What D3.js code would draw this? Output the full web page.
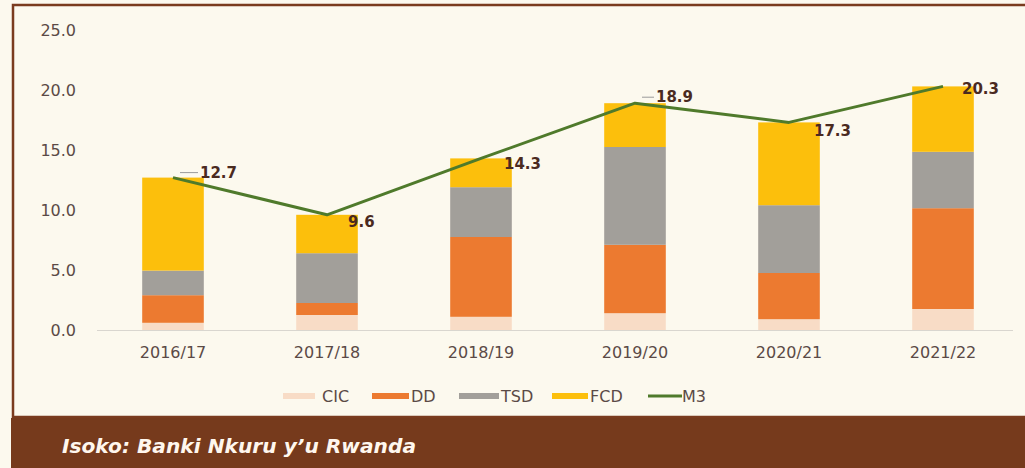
<!DOCTYPE html>
<html><head><meta charset="utf-8">
<script src="https://cdn.jsdelivr.net/npm/d3@7"></script>
<style>
html,body{margin:0;padding:0;background:#fcf9ee;}
svg{display:block;}
</style></head>
<body>
<svg id="c" width="1025" height="468"></svg>
<script>
const categories = ["2016/17","2017/18","2018/19","2019/20","2020/21","2021/22"];
const seriesNames = ["CIC","DD","TSD","FCD"];
const CIC = [0.6, 1.25, 1.1, 1.4, 0.9, 1.75];
const DD  = [2.3, 1.0, 6.65, 5.7, 3.85, 8.4];
const TSD = [2.05, 4.15, 4.15, 8.15, 5.65, 4.7];
const FCD = [7.75, 3.2, 2.4, 3.65, 6.9, 5.45];
const M3  = [12.7, 9.6, 14.3, 18.9, 17.3, 20.3];
const yTicks = [0,5,10,15,20,25];
const sourceText = "Isoko: Banki Nkuru y\u2019u Rwanda";

const colors = {CIC:"#f8dcc6", DD:"#ec7a30", TSD:"#a29f9a", FCD:"#fcbf0c", M3:"#4f7a2b"};
const FONT = "'DejaVu Sans'";
const TXT = "#5b4a46";
const svg = d3.select("#c");
const W = 1025, H = 468;

// background / frame
svg.append("rect").attr("x",0).attr("y",0).attr("width",W).attr("height",H).attr("fill","#fcf9ee");
svg.append("rect").attr("x",13).attr("y",5).attr("width",W+5).attr("height",412)
  .attr("fill","#fcf9ee").attr("stroke","#7a3b1e").attr("stroke-width",2.5);
svg.append("rect").attr("x",11).attr("y",418).attr("width",W-11).attr("height",50).attr("fill","#763a1c");
svg.append("text").attr("x",62).attr("y",453).text(sourceText)
  .attr("fill","#fff7ee").attr("font-family",FONT).attr("font-weight","bold")
  .attr("font-style","italic").attr("font-size",19).attr("textLength",354).attr("lengthAdjust","spacingAndGlyphs");

const x = d3.scaleBand().domain(categories).range([96,1020]).paddingInner(0.6).paddingOuter(0.3);
const y = d3.scaleLinear().domain([0,25]).range([330,30]);

// y axis labels
const yAxis = d3.axisLeft(y).tickValues(yTicks).tickFormat(d3.format(".1f")).tickSize(0).tickPadding(0);
const gy = svg.append("g").attr("transform","translate(76,0)").call(yAxis);
gy.select(".domain").remove();
gy.selectAll("text").attr("font-family",FONT).attr("font-size",16).attr("fill",TXT);

// baseline
svg.append("line").attr("x1",97).attr("x2",1013).attr("y1",y(0)+0.5).attr("y2",y(0)+0.5)
  .attr("stroke","#d9d6cf").attr("stroke-width",1.2);

// x axis labels
const xAxis = d3.axisBottom(x).tickSize(0).tickPadding(0);
const gx = svg.append("g").attr("transform",`translate(0,${y(0)+17})`).call(xAxis);
gx.select(".domain").remove();
gx.selectAll("text").attr("font-family",FONT).attr("font-size",16).attr("fill",TXT);

// stacked bars
const rows = categories.map((c,i)=>({cat:c, CIC:CIC[i], DD:DD[i], TSD:TSD[i], FCD:FCD[i]}));
const stack = d3.stack().keys(seriesNames)(rows);
svg.append("g").selectAll("g").data(stack).join("g").attr("fill",d=>colors[d.key])
  .selectAll("rect").data(d=>d).join("rect")
  .attr("x",d=>x(d.data.cat)).attr("width",x.bandwidth())
  .attr("y",d=>y(d[1])).attr("height",d=>y(d[0])-y(d[1]));

// M3 line
const cx = i => x(categories[i]) + x.bandwidth()/2;
const line = d3.line().x((d,i)=>cx(i)).y(d=>y(d));
svg.append("path").datum(M3).attr("d",line).attr("fill","none")
  .attr("stroke",colors.M3).attr("stroke-width",3).attr("stroke-linejoin","round");

// data labels (offsets are layout only)
const offs = [[27,-5,true],[21,7,false],[23,5,false],[21,-6,true],[25,8,false],[19,2,false]];
const lg = svg.append("g");
M3.forEach((v,i)=>{
  const [dx,dy,leader] = offs[i];
  const px = cx(i), py = y(v);
  if(leader){
    lg.append("line").attr("x1",px+7).attr("x2",px+dx-2).attr("y1",py+dy).attr("y2",py+dy)
      .attr("stroke","#9a9a9a").attr("stroke-width",1);
  }
  lg.append("text").attr("x",px+dx).attr("y",py+dy).attr("dy","0.35em")
    .text(d3.format(".1f")(v)).attr("font-family",FONT).attr("font-weight","bold")
    .attr("font-size",15).attr("fill","#4a2a1f");
});

// legend
const legendItems = [
  {k:"CIC", sx:283, sw:32, tx:322},
  {k:"DD", sx:372, sw:37, tx:411},
  {k:"TSD", sx:459, sw:40, tx:501},
  {k:"FCD", sx:552, sw:36, tx:590},
  {k:"M3", sx:648, sw:34, tx:682}
];
const leg = svg.append("g");
legendItems.forEach(it=>{
  if(it.k==="M3"){
    leg.append("line").attr("x1",it.sx).attr("x2",it.sx+it.sw).attr("y1",396).attr("y2",396)
      .attr("stroke",colors.M3).attr("stroke-width",3);
  } else {
    leg.append("rect").attr("x",it.sx).attr("y",393).attr("width",it.sw).attr("height",6).attr("fill",colors[it.k]);
  }
  leg.append("text").attr("x",it.tx).attr("y",396).attr("dy","0.35em").text(it.k)
    .attr("font-family",FONT).attr("font-size",16).attr("fill",TXT);
});
</script>
</body></html>
